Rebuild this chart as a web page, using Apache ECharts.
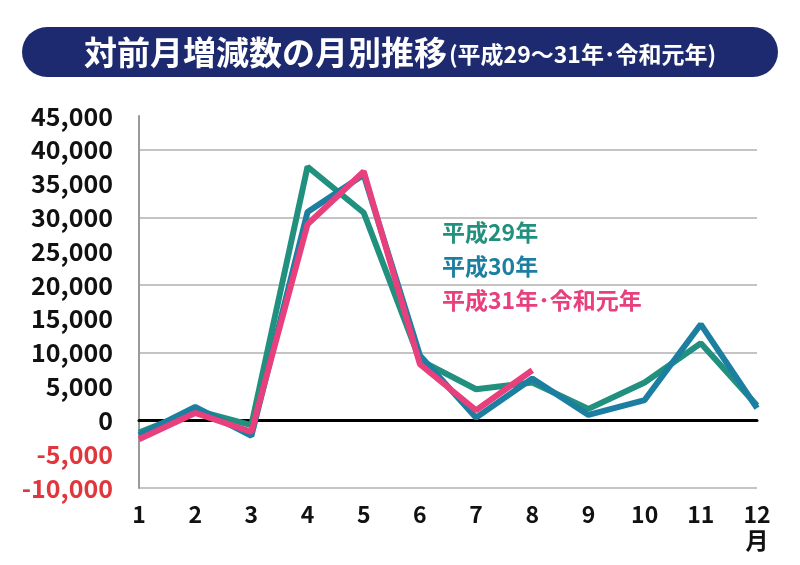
<!DOCTYPE html>
<html>
<head>
<meta charset="utf-8">
<script src="https://cdn.jsdelivr.net/npm/echarts@6/dist/echarts.min.js"></script>
<style>
  html, body { margin: 0; padding: 0; background: #fff; }
  #chart { width: 800px; height: 565px; }
</style>
</head>
<body>
<div id="chart"></div>
<script>
  // 月
  var months = ['1', '2', '3', '4', '5', '6', '7', '8', '9', '10', '11', '12']
  // 対前月増減数
  var h29 = [-1800, 1500, -700, 37500, 30700, 8900, 4600, 5600, 1700, 5600, 11400, 2200]
  var h30 = [-2200, 2000, -2300, 30800, 36300, 9600, 400, 6200, 800, 3000, 14200, 1800]
  var h31 = [-2800, 1100, -1700, 29000, 36800, 8300, 1500, 7400]
  var seriesNames = ['平成29年', '平成30年', '平成31年･令和元年']
  var seriesColors = ['#21907e', '#1c7fa1', '#e8407d']

  var FONT = '"Noto Sans CJK JP", "Noto Sans", sans-serif'

  var chart = echarts.init(document.getElementById('chart'))

  function makeLine(name, data, color) {
    return {
      name: name,
      type: 'line',
      data: data,
      symbol: 'none',
      xAxisIndex: 0,
      lineStyle: { color: color, width: 6 },
      itemStyle: { color: color },
      emphasis: { disabled: true }
    }
  }

  chart.setOption({
    animation: false,
    grid: {
      left: 139,
      right: 43,
      top: 116,
      bottom: 77
    },
    graphic: [
      {
        type: 'rect',
        shape: { x: 22, y: 27, width: 756, height: 50, r: 25 },
        style: { fill: '#1e2a6f' }
      },
      {
        type: 'text',
        x: 400,
        y: 52,
        style: {
          text: '{a|対前月増減数の月別推移}{b|(平成29～31年･令和元年)}',
          align: 'center',
          verticalAlign: 'middle',
          fill: '#fff',
          fontFamily: FONT,
          rich: {
            a: { fontSize: 33, fontWeight: 'bold', fill: '#fff', fontFamily: FONT },
            b: { fontSize: 23, fontWeight: 'bold', fill: '#fff', fontFamily: FONT, padding: [4, 0, 0, 2] }
          }
        }
      },
      {
        type: 'text',
        x: 757,
        y: 540,
        style: {
          text: '月',
          align: 'center',
          verticalAlign: 'middle',
          fontSize: 23,
          fontWeight: 'bold',
          fill: '#111',
          fontFamily: FONT
        }
      }
    ],
    legend: {
      orient: 'vertical',
      left: 432,
      top: 215,
      icon: 'none',
      itemWidth: 0,
      itemGap: 10,
      selectedMode: false,
      textStyle: { fontSize: 23, fontWeight: 'bold', fontFamily: FONT, lineHeight: 24 },
      data: seriesNames.map(function (n, i) {
        return { name: n, textStyle: { color: seriesColors[i] } }
      })
    },
    xAxis: [
      {
        // 0 の線
        type: 'category',
        data: months,
        boundaryGap: false,
        axisLine: { onZero: true, lineStyle: { color: '#000', width: 3 } },
        axisTick: { show: false },
        axisLabel: { show: false },
        splitLine: { show: false }
      },
      {
        type: 'category',
        data: months,
        position: 'bottom',
        boundaryGap: false,
        axisLine: { show: false },
        axisTick: { show: false },
        axisLabel: {
          margin: 15,
          fontSize: 23,
          fontWeight: 'bold',
          color: '#111',
          fontFamily: FONT
        },
        splitLine: { show: false }
      }
    ],
    yAxis: {
      type: 'value',
      min: -10000,
      max: 45000,
      interval: 5000,
      axisLine: { show: true, lineStyle: { color: '#9a9a9a', width: 2 } },
      axisTick: { show: false },
      axisLabel: {
        margin: 26,
        fontSize: 25,
        fontWeight: 'bold',
        fontFamily: FONT,
        color: function (v) {
          return v < 0 ? '#e0363c' : '#111'
        },
        formatter: function (v) {
          return v.toLocaleString('en-US')
        }
      },
      splitLine: {
        show: true,
        lineStyle: { color: ['#c4c4c4', 'rgba(0,0,0,0)'], width: 2 }
      }
    },
    series: [
      makeLine(seriesNames[0], h29, seriesColors[0]),
      makeLine(seriesNames[1], h30, seriesColors[1]),
      makeLine(seriesNames[2], h31, seriesColors[2])
    ]
  })
</script>
</body>
</html>
